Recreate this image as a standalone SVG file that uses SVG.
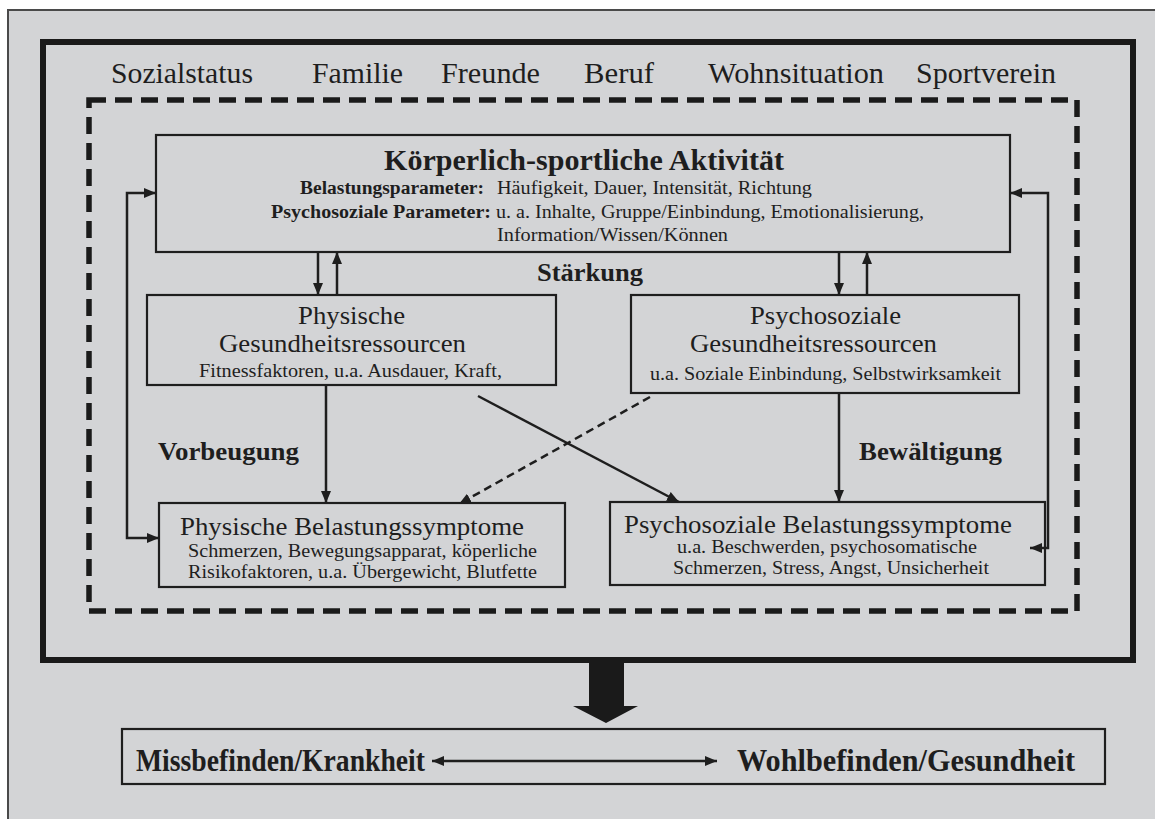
<svg xmlns="http://www.w3.org/2000/svg" width="1155" height="819" viewBox="0 0 1155 819">
  <defs>
    <style>
      .txt { font-family: "Liberation Serif", "Times New Roman", serif; fill: #1e1e1e; }
      .b { font-weight: bold; }
      .ctx { font-size: 29px; }
      .title { font-size: 30px; }
      .param { font-size: 18px; }
      .head { font-size: 25px; }
      .sub { font-size: 18.5px; }
      .lbl { font-size: 26px; }
      .big { font-size: 31px; }
      .box { fill: none; stroke: #1e1e1e; stroke-width: 2.2; }
      .link { fill: none; stroke: #1e1e1e; stroke-width: 2.5; }
    </style>
    <marker id="ah" viewBox="0 0 12 10" markerUnits="userSpaceOnUse" markerWidth="12" markerHeight="10" refX="12" refY="5" orient="auto-start-reverse">
      <path d="M0,0 L12,5 L0,10 z" fill="#1e1e1e"/>
    </marker>
  </defs>

  <!-- page -->
  <rect x="0" y="0" width="1155" height="819" fill="#ffffff"/>
  <rect x="8" y="10" width="1152" height="815" fill="#d3d4d6" stroke="#4a4a4a" stroke-width="2"/>

  <!-- outer frame: environment -->
  <g id="environment">
    <rect x="43" y="42" width="1090" height="618" fill="none" stroke="#1a1a1a" stroke-width="6"/>
    <text class="txt ctx" x="111" y="83" textLength="142" lengthAdjust="spacingAndGlyphs">Sozialstatus</text>
    <text class="txt ctx" x="312" y="83" textLength="91" lengthAdjust="spacingAndGlyphs">Familie</text>
    <text class="txt ctx" x="441" y="83" textLength="99" lengthAdjust="spacingAndGlyphs">Freunde</text>
    <text class="txt ctx" x="584" y="83" textLength="70" lengthAdjust="spacingAndGlyphs">Beruf</text>
    <text class="txt ctx" x="708" y="83" textLength="176" lengthAdjust="spacingAndGlyphs">Wohnsituation</text>
    <text class="txt ctx" x="916" y="83" textLength="140" lengthAdjust="spacingAndGlyphs">Sportverein</text>
  </g>

  <!-- inner dashed frame -->
  <g id="inner-frame">
    <rect x="89" y="100" width="988" height="511" fill="none" stroke="#1a1a1a" stroke-width="5.5" stroke-dasharray="17 9"/>
  </g>

  <!-- activity -->
  <g id="activity">
    <rect class="box" x="156" y="135" width="854" height="117"/>
    <text class="txt b title" x="384" y="170" textLength="400" lengthAdjust="spacingAndGlyphs">Körperlich-sportliche Aktivität</text>
    <text class="txt b param" x="300" y="194" textLength="184" lengthAdjust="spacingAndGlyphs">Belastungsparameter:</text>
    <text class="txt param" x="497" y="194" textLength="315" lengthAdjust="spacingAndGlyphs">Häufigkeit, Dauer, Intensität, Richtung</text>
    <text class="txt b param" x="271" y="218" textLength="220" lengthAdjust="spacingAndGlyphs">Psychosoziale Parameter:</text>
    <text class="txt param" x="496" y="218" textLength="428" lengthAdjust="spacingAndGlyphs">u. a. Inhalte, Gruppe/Einbindung, Emotionalisierung,</text>
    <text class="txt param" x="497" y="241" textLength="231" lengthAdjust="spacingAndGlyphs">Information/Wissen/Können</text>
  </g>

  <!-- physical resources -->
  <g id="phys-resources">
    <rect class="box" x="147" y="295" width="409" height="90"/>
    <text class="txt head" x="298" y="324" textLength="107" lengthAdjust="spacingAndGlyphs">Physische</text>
    <text class="txt head" x="219" y="352" textLength="247" lengthAdjust="spacingAndGlyphs">Gesundheitsressourcen</text>
    <text class="txt sub" x="199" y="377" textLength="303" lengthAdjust="spacingAndGlyphs">Fitnessfaktoren, u.a. Ausdauer, Kraft,</text>
  </g>

  <!-- psychosocial resources -->
  <g id="psych-resources">
    <rect class="box" x="631" y="295" width="388" height="98"/>
    <text class="txt head" x="750" y="324" textLength="151" lengthAdjust="spacingAndGlyphs">Psychosoziale</text>
    <text class="txt head" x="690" y="352" textLength="247" lengthAdjust="spacingAndGlyphs">Gesundheitsressourcen</text>
    <text class="txt sub" x="650" y="380" textLength="351" lengthAdjust="spacingAndGlyphs">u.a. Soziale Einbindung, Selbstwirksamkeit</text>
  </g>

  <!-- physical symptoms -->
  <g id="phys-symptoms">
    <rect class="box" x="159" y="503" width="406" height="84"/>
    <text class="txt head" x="180" y="535" textLength="344" lengthAdjust="spacingAndGlyphs">Physische Belastungssymptome</text>
    <text class="txt sub" x="188" y="557" textLength="349" lengthAdjust="spacingAndGlyphs">Schmerzen, Bewegungsapparat, köperliche</text>
    <text class="txt sub" x="188" y="578" textLength="349" lengthAdjust="spacingAndGlyphs">Risikofaktoren, u.a. Übergewicht, Blutfette</text>
  </g>

  <!-- psychosocial symptoms -->
  <g id="psych-symptoms">
    <rect class="box" x="610" y="502" width="435" height="83"/>
    <text class="txt head" x="624" y="533" textLength="388" lengthAdjust="spacingAndGlyphs">Psychosoziale Belastungssymptome</text>
    <text class="txt sub" x="677" y="553" textLength="300" lengthAdjust="spacingAndGlyphs">u.a. Beschwerden, psychosomatische</text>
    <text class="txt sub" x="673" y="574" textLength="316" lengthAdjust="spacingAndGlyphs">Schmerzen, Stress, Angst, Unsicherheit</text>
  </g>

  <!-- outcome -->
  <g id="outcome">
    <rect class="box" x="122" y="729" width="983" height="55"/>
    <text class="txt b big" x="136" y="771" textLength="289" lengthAdjust="spacingAndGlyphs">Missbefinden/Krankheit</text>
    <text class="txt b big" x="737" y="771" textLength="338" lengthAdjust="spacingAndGlyphs">Wohlbefinden/Gesundheit</text>
  </g>

  <!-- connectors -->
  <g id="connectors">
    <!-- activity <-> resources -->
    <line class="link" x1="318" y1="252" x2="318" y2="295" marker-end="url(#ah)"/>
    <line class="link" x1="337" y1="295" x2="337" y2="252" marker-end="url(#ah)"/>
    <line class="link" x1="839" y1="252" x2="839" y2="295" marker-end="url(#ah)"/>
    <line class="link" x1="867" y1="295" x2="867" y2="252" marker-end="url(#ah)"/>
    <!-- feedback loops -->
    <path class="link" d="M159,538 H127 V193 H156" marker-start="url(#ah)" marker-end="url(#ah)"/>
    <path class="link" d="M1030,548 H1048 V193 H1010" marker-start="url(#ah)" marker-end="url(#ah)"/>
    <!-- resources -> symptoms -->
    <line class="link" x1="326" y1="385" x2="326" y2="503" marker-end="url(#ah)"/>
    <line class="link" x1="839" y1="393" x2="839" y2="502" marker-end="url(#ah)"/>
    <line class="link" x1="478" y1="396" x2="679" y2="502" marker-end="url(#ah)"/>
    <line class="link" x1="650" y1="397" x2="459" y2="504" stroke-dasharray="8 5" marker-end="url(#ah)"/>
    <!-- big arrow to outcome -->
    <path d="M589,661 H624 V706 H638 L606,723 L573,706 H589 Z" fill="#1a1a1a"/>
    <!-- continuum -->
    <line class="link" x1="432" y1="761" x2="717" y2="761" marker-start="url(#ah)" marker-end="url(#ah)"/>
  </g>

  <!-- relation labels -->
  <g id="labels">
    <text class="txt b lbl" x="537" y="281" textLength="106" lengthAdjust="spacingAndGlyphs">Stärkung</text>
    <text class="txt b lbl" x="158" y="460" textLength="141" lengthAdjust="spacingAndGlyphs">Vorbeugung</text>
    <text class="txt b lbl" x="859" y="460" textLength="143" lengthAdjust="spacingAndGlyphs">Bewältigung</text>
  </g>
</svg>
